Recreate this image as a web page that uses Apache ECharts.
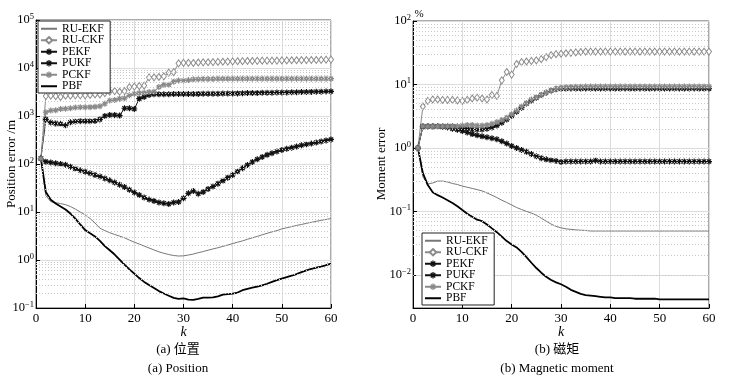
<!DOCTYPE html>
<html><head><meta charset="utf-8">
<script src="https://cdn.jsdelivr.net/npm/echarts@6/dist/echarts.min.js"></script>
<style>html,body{margin:0;padding:0;background:#fff}#c{width:730px;height:381px}</style>
</head><body><div id="c"></div>
<script>
// k = 1..60
const K = Array.from({length: 60}, (_, i) => i + 1);
const seriesNames = ['RU-EKF', 'RU-CKF', 'PEKF', 'PUKF', 'PCKF', 'PBF'];
const xTicks = [0, 10, 20, 30, 40, 50, 60];

// (a) Position error /m
const posRUEKF = [130,22,16.4,15.6,15,14.2,13,11.5,10,8.7,7.3,5.9,4.6,4.1,3.7,3.4,3.15,2.9,2.6,2.35,2.15,1.95,1.78,1.62,1.48,1.38,1.3,1.24,1.21,1.22,1.27,1.33,1.42,1.5,1.6,1.7,1.8,1.92,2.05,2.2,2.35,2.5,2.7,2.9,3.1,3.35,3.6,3.85,4.1,4.45,4.7,4.95,5.25,5.5,5.8,6.1,6.4,6.7,7.0,7.3];
const posRUCKF = [130,2600,2650,2600,2500,2650,2650,2700,2700,2700,2750,2800,2800,3000,3200,3300,3200,3300,4000,4100,4200,4300,6400,6400,6500,6700,8000,8200,12500,12800,12800,12700,13000,13100,13200,13300,13400,13500,13600,13700,13800,13900,14000,14000,14100,14200,14200,14300,14300,14400,14400,14500,14500,14600,14600,14700,14700,14800,14900,15000];
const posPEKF = [130,850,730,700,680,640,740,770,780,780,780,790,850,1000,1050,1050,1020,1450,1450,1400,2300,2500,2750,2850,2850,2850,2850,2860,2870,2870,2880,2880,2890,2900,2900,2910,2920,2930,2940,2950,2960,2980,3000,3010,3020,3040,3050,3060,3080,3090,3100,3120,3130,3150,3160,3180,3200,3210,3230,3250];
const posPUKF = [130,112,108,104,100,96,88,80,74,69,64,59,55,50,46,41,37,33,29,25.5,22.5,20,18.3,17,15.8,15.2,14.7,15.8,16.2,19.3,24.5,27.5,24,26,30,34,39,45,52,59,70,82,95,110,125,140,155,168,182,195,207,219,232,245,258,268,280,295,310,325];
const posPCKF = [130,1200,1300,1320,1400,1420,1450,1500,1520,1520,1530,1550,1600,1800,2100,2150,2300,2350,2700,2900,3000,3050,3150,3200,4000,4500,4500,5200,5500,5500,5600,5800,5850,5900,5900,5900,5950,5950,5950,5950,6000,6000,6000,6000,6000,6000,6000,6000,6000,6000,6000,6000,6000,6000,6000,6000,6000,6000,6000,6000];
const posPBF = [130,26,18,15,13,11.3,9.3,7.3,5.5,4.2,3.6,3.1,2.5,1.95,1.6,1.3,1.02,0.8,0.64,0.52,0.42,0.35,0.3,0.26,0.225,0.2,0.18,0.162,0.155,0.158,0.15,0.148,0.155,0.165,0.165,0.166,0.175,0.19,0.195,0.2,0.21,0.235,0.25,0.265,0.28,0.295,0.32,0.35,0.38,0.41,0.44,0.47,0.51,0.56,0.61,0.65,0.69,0.73,0.78,0.84];

// (b) Magnetic moment error %
const magRUEKF = [1,0.35,0.27,0.28,0.3,0.3,0.29,0.275,0.265,0.25,0.24,0.23,0.22,0.21,0.195,0.18,0.165,0.15,0.138,0.126,0.115,0.107,0.1,0.094,0.087,0.078,0.07,0.063,0.058,0.055,0.053,0.052,0.051,0.0505,0.05,0.049,0.049,0.049,0.049,0.049,0.049,0.049,0.049,0.049,0.049,0.049,0.049,0.049,0.049,0.049,0.049,0.049,0.049,0.049,0.049,0.049,0.049,0.049,0.049,0.049];
const magRUCKF = [1,4.5,5.5,5.8,5.8,5.7,5.7,5.7,5.6,5.5,5.7,6.0,6.2,6.0,5.8,6.8,6.6,11.6,15.7,14.3,21,22.5,23,23.5,24,25,27,29,30,30.5,31,31.5,32,32.5,33,33,33,33,33,33,33,33,33,33,33,33,33,33,33,33,33,33,33,33,33,33,33,33,33,33];
const magPEKF = [1,2.15,2.2,2.2,2.2,2.2,2.2,2.2,2.15,2.05,2.0,1.95,1.95,1.95,2.0,2.1,2.25,2.5,2.8,3.2,3.7,4.3,5.0,5.6,6.2,6.8,7.4,8.0,8.4,8.6,8.6,8.6,8.6,8.6,8.6,8.6,8.6,8.6,8.6,8.6,8.6,8.6,8.6,8.6,8.6,8.6,8.6,8.6,8.6,8.6,8.6,8.6,8.6,8.6,8.6,8.6,8.6,8.6,8.6,8.6];
const magPUKF = [1,2.2,2.2,2.2,2.2,2.15,2.1,2.0,1.93,1.85,1.75,1.65,1.58,1.52,1.47,1.42,1.37,1.27,1.17,1.07,1.0,0.93,0.87,0.8,0.74,0.69,0.66,0.64,0.62,0.6,0.61,0.61,0.61,0.61,0.61,0.61,0.63,0.61,0.61,0.61,0.61,0.61,0.61,0.61,0.61,0.61,0.61,0.61,0.61,0.61,0.61,0.61,0.61,0.61,0.61,0.61,0.61,0.61,0.61,0.61];
const magPCKF = [1,2.2,2.2,2.2,2.2,2.2,2.2,2.2,2.2,2.25,2.3,2.3,2.25,2.25,2.3,2.4,2.55,2.75,3.0,3.4,3.9,4.5,5.1,5.8,6.3,6.9,7.5,8.1,8.6,8.9,9.0,9.1,9.2,9.2,9.3,9.3,9.3,9.3,9.3,9.3,9.3,9.3,9.3,9.3,9.3,9.3,9.3,9.3,9.3,9.3,9.3,9.3,9.3,9.3,9.3,9.3,9.3,9.3,9.3,9.3];
const magPBF = [1,0.4,0.26,0.2,0.18,0.165,0.15,0.135,0.12,0.105,0.092,0.082,0.074,0.07,0.062,0.054,0.047,0.04,0.034,0.03,0.027,0.023,0.019,0.0155,0.0128,0.0108,0.0093,0.0083,0.0076,0.0071,0.0065,0.0058,0.0054,0.005,0.0048,0.0047,0.0046,0.0045,0.0044,0.0044,0.0043,0.0043,0.0043,0.0043,0.0042,0.0042,0.0042,0.0042,0.0042,0.0041,0.0041,0.0041,0.0041,0.0041,0.0041,0.0041,0.0041,0.0041,0.0041,0.0041];

const SERIF = '"Liberation Serif","Times New Roman","Noto Sans CJK SC",serif';
const GRAY = '#8a8a8a';
const STAR = 'path://M-1,-5L1,-5L1,5L-1,5Z M-5,-1L5,-1L5,1L-5,1Z M-4.2,-2.8L-2.8,-4.2L4.2,2.8L2.8,4.2Z M2.8,-4.2L4.2,-2.8L-2.8,4.2L-4.2,2.8Z';

const pairs = arr => K.map((k, i) => [k, arr[i]]);

function styleFor(name) {
  switch (name) {
    case 'RU-EKF': return {symbol: 'none', lineStyle: {color: '#777', width: 1}, itemStyle: {color: '#777'}};
    case 'RU-CKF': return {symbol: 'diamond', symbolSize: [5, 7], lineStyle: {color: GRAY, width: 1}, itemStyle: {color: '#fff', borderColor: GRAY, borderWidth: 1}};
    case 'PEKF': return {symbol: STAR, symbolSize: 6, lineStyle: {color: '#111', width: 1}, itemStyle: {color: '#111'}};
    case 'PUKF': return {symbol: STAR, symbolSize: 6, lineStyle: {color: '#111', width: 1}, itemStyle: {color: '#111'}};
    case 'PCKF': return {symbol: STAR, symbolSize: 6, lineStyle: {color: GRAY, width: 1}, itemStyle: {color: GRAY}};
    case 'PBF': return {symbol: 'none', lineStyle: {color: '#000', width: 1.8}, itemStyle: {color: '#000'}};
  }
}

function supLabel(v) {
  const l = Math.log10(v);
  const e = Math.round(l);
  if (Math.abs(l - e) > 0.01) return '';
  return '10{s|' + (e < 0 ? '\u2212' + (-e) : e) + '}';
}

function minorVals(lo, hi) {
  const out = [];
  for (let n = -4; n <= 5; n++) {
    for (let m = 2; m <= 9; m++) {
      const v = m * Math.pow(10, n);
      if (v > lo * 1.001 && v < hi * 0.999) out.push({yAxis: v});
    }
  }
  return out;
}

function xAxisOpt(gi) {
  return {
    type: 'value', gridIndex: gi, min: 0, max: 60, interval: 10,
    name: 'k', nameLocation: 'middle', nameGap: 17, nameMoveOverlap: false,
    nameTextStyle: {fontFamily: SERIF, fontStyle: 'italic', fontSize: 14, color: '#000'},
    axisLine: {show: true, lineStyle: {color: '#000', width: 1}},
    axisTick: {show: true, inside: true, length: 4, lineStyle: {color: '#000'}},
    axisLabel: {fontFamily: SERIF, fontSize: 13, color: '#000', margin: 4},
    splitLine: {show: true, lineStyle: {color: '#dcdcdc', width: 1}}
  };
}
function yAxisOpt(gi, mn, mx) {
  return {
    type: 'log', logBase: 10, gridIndex: gi, min: mn, max: mx,
    axisLine: {show: true, lineStyle: {color: '#000', width: 1}},
    axisTick: {show: true, inside: true, length: 4, lineStyle: {color: '#000'}},
    axisLabel: {fontFamily: SERIF, fontSize: 12.5, color: '#000', margin: 2, hideOverlap: false,
      showMinLabel: true, showMaxLabel: true,
      formatter: supLabel,
      rich: {s: {fontFamily: SERIF, fontSize: 8.5, color: '#000', verticalAlign: 'top', padding: [0, 0, 7, 0]}}},
    splitLine: {show: true, lineStyle: {color: '#dcdcdc', width: 1}}
  };
}

const leftData = [posRUEKF, posRUCKF, posPEKF, posPUKF, posPCKF, posPBF];
const rightData = [magRUEKF, magRUCKF, magPEKF, magPUKF, magPCKF, magPBF];

const series = [];
[[0, 0.1, 100000], [1, 0.003, 100]].forEach(([gi, lo, hi]) => {
  series.push({
    name: '_minor' + gi, type: 'line', xAxisIndex: gi, yAxisIndex: gi, data: [], silent: true, z: 1,
    markLine: {silent: true, symbol: 'none', label: {show: false}, animation: false,
      lineStyle: {color: '#c8c8c8', type: [1, 2], width: 1}, data: minorVals(lo, hi)}
  });
});
seriesNames.forEach((nm, i) => {
  series.push(Object.assign({name: nm, type: 'line', xAxisIndex: 0, yAxisIndex: 0, data: pairs(leftData[i]), animation: false, z: 3}, styleFor(nm)));
  series.push(Object.assign({name: nm, type: 'line', xAxisIndex: 1, yAxisIndex: 1, data: pairs(rightData[i]), animation: false, z: 3}, styleFor(nm)));
});

// legend entries: plain-line series get no marker in the key
const legendItems = seriesNames.map(nm =>
  (nm === 'RU-EKF' || nm === 'PBF') ? {name: nm, itemStyle: {opacity: 0}} : {name: nm});

const legendBase = {
  orient: 'vertical', data: legendItems, itemWidth: 16, itemHeight: 8, itemGap: 0, z: 10,
  backgroundColor: '#fff', borderColor: '#222', borderWidth: 1, borderRadius: 0, padding: [2, 6, 1, 2],
  textStyle: {fontFamily: SERIF, fontSize: 11.5, color: '#000', lineHeight: 11},
  selectedMode: false
};

const chart = echarts.init(document.getElementById('c'), null, {renderer: 'canvas'});
chart.setOption({
  animation: false,
  backgroundColor: '#fff',
  grid: [
    {left: 36, right: 399, top: 20, bottom: 73, outerBoundsMode: 'none', show: true, borderColor: '#555', borderWidth: 1, backgroundColor: 'transparent'},
    {left: 413, right: 21, top: 21, bottom: 73, outerBoundsMode: 'none', show: true, borderColor: '#555', borderWidth: 1, backgroundColor: 'transparent'}
  ],
  xAxis: [xAxisOpt(0), xAxisOpt(1)],
  yAxis: [yAxisOpt(0, 0.1, 100000), yAxisOpt(1, 0.003, 100)],
  legend: [
    Object.assign({left: 38, top: 21}, legendBase),
    Object.assign({left: 422, top: 233}, legendBase)
  ],
  graphic: [
    {type: 'text', x: 12, y: 164, rotation: Math.PI / 2, style: {text: 'Position error /m', fontFamily: SERIF, fontSize: 13, fill: '#000', textAlign: 'center', textVerticalAlign: 'middle'}},
    {type: 'text', x: 382, y: 164, rotation: Math.PI / 2, style: {text: 'Moment error', fontFamily: SERIF, fontSize: 13, fill: '#000', textAlign: 'center', textVerticalAlign: 'middle'}},
    {type: 'text', x: 419, y: 14, style: {text: '%', fontFamily: SERIF, fontSize: 11, fill: '#000', textAlign: 'center', textVerticalAlign: 'middle'}},
    {type: 'text', x: 178, y: 350, style: {text: '(a) 位置', fontFamily: SERIF, fontSize: 13, fill: '#000', textAlign: 'center', textVerticalAlign: 'middle'}},
    {type: 'text', x: 178, y: 369, style: {text: '(a) Position', fontFamily: SERIF, fontSize: 13, fill: '#000', textAlign: 'center', textVerticalAlign: 'middle'}},
    {type: 'text', x: 557, y: 350, style: {text: '(b) 磁矩', fontFamily: SERIF, fontSize: 13, fill: '#000', textAlign: 'center', textVerticalAlign: 'middle'}},
    {type: 'text', x: 557, y: 369, style: {text: '(b) Magnetic moment', fontFamily: SERIF, fontSize: 13, fill: '#000', textAlign: 'center', textVerticalAlign: 'middle'}}
  ],
  series: series
});
</script>
</body></html>
